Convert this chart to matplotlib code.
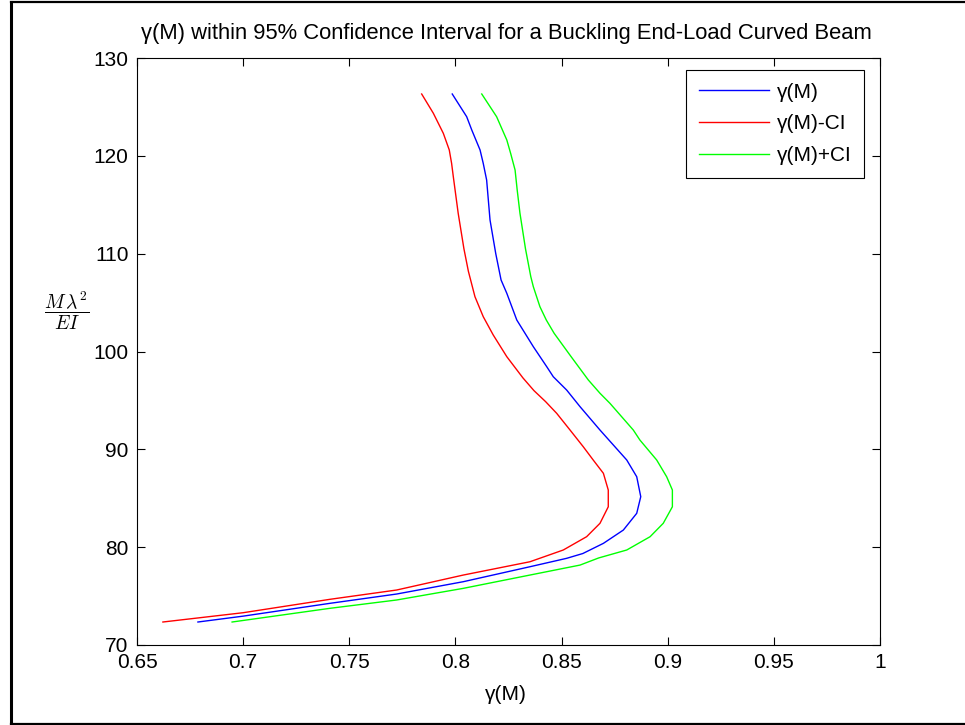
import matplotlib
matplotlib.use("Agg")
import matplotlib.pyplot as plt
from matplotlib.lines import Line2D

plt.rcParams['font.family'] = ['Liberation Sans', 'DejaVu Sans']
plt.rcParams['mathtext.fontset'] = 'cm'

# ---- data ----
gamma_x = [0.6787, 0.7000, 0.7409, 0.7723, 0.8037, 0.8351, 0.8524, 0.8600, 0.8697,
           0.8791, 0.8854, 0.8873, 0.8854, 0.8807, 0.8681, 0.8587, 0.8524, 0.8461,
           0.8430, 0.8367, 0.8289, 0.8242, 0.8215, 0.8190, 0.8163, 0.8147,
           0.8131, 0.8116, 0.8077, 0.8053, 0.7985]
gamma_y = [72.35, 72.95, 74.26, 75.21, 76.47, 78.00, 78.86, 79.35, 80.39,
           81.75, 83.46, 85.16, 87.20, 88.91, 91.97, 94.36, 96.06, 97.42,
           98.45, 100.49, 103.22, 105.95, 107.31, 110.00, 113.44, 117.53,
           119.23, 120.60, 122.64, 124.00, 126.32]

lower_x = [0.6622, 0.7000, 0.7409, 0.7723, 0.8037, 0.8351, 0.8508, 0.8618, 0.8681,
           0.8720, 0.8720, 0.8697, 0.8649, 0.8602, 0.8540, 0.8477, 0.8425, 0.8370,
           0.8318, 0.8242, 0.8178, 0.8131, 0.8092, 0.8061, 0.8040, 0.8013,
           0.7990, 0.7982, 0.7971, 0.7943, 0.7896, 0.7841]
lower_y = [72.35, 73.30, 74.67, 75.62, 77.15, 78.51, 79.71, 81.07, 82.44,
           84.13, 85.84, 87.55, 88.91, 90.27, 91.97, 93.68, 94.87, 96.00,
           97.30, 99.47, 101.69, 103.56, 105.60, 108.20, 110.50, 114.13,
           117.87, 119.23, 120.60, 122.30, 124.35, 126.32]

upper_x = [0.6948, 0.7409, 0.7723, 0.8037, 0.8351, 0.8587, 0.8675, 0.8807, 0.8917,
           0.8979, 0.9022, 0.9022, 0.8995, 0.8948, 0.8869, 0.8838, 0.8728, 0.8681,
           0.8626, 0.8545, 0.8465, 0.8428, 0.8398, 0.8367, 0.8355, 0.8330, 0.8304,
           0.8291, 0.8281, 0.8260, 0.8242, 0.8194, 0.8124]
upper_y = [72.35, 73.75, 74.60, 75.79, 77.15, 78.17, 78.90, 79.71, 81.07,
           82.44, 84.13, 85.84, 87.20, 88.91, 90.95, 91.97, 94.70, 95.73,
           97.09, 99.47, 101.86, 103.22, 104.58, 106.62, 107.65, 110.50, 114.13,
           116.50, 118.55, 120.26, 121.62, 124.00, 126.32]

series_labels = ['γ(M)', 'γ(M)-CI', 'γ(M)+CI']
x_ticks = [0.65, 0.7, 0.75, 0.8, 0.85, 0.9, 0.95, 1]
x_tick_labels = ['0.65', '0.7', '0.75', '0.8', '0.85', '0.9', '0.95', '1']
y_ticks = [70, 80, 90, 100, 110, 120, 130]
title_text = 'γ(M) within 95% Confidence Interval for a Buckling End-Load Curved Beam'
xlabel_text = 'γ(M)'
ylabel_text = r'$\dfrac{M\,\lambda^2}{EI}$'

W, H = 965, 725
fig = plt.figure(figsize=(W / 100, H / 100), dpi=100)
fig.patch.set_facecolor('white')

ax = fig.add_axes([137 / W, (H - 645) / H, 743 / W, 587 / H])
ax.plot(gamma_x, gamma_y, color=(0, 0, 1), lw=1.0, label=series_labels[0])
ax.plot(lower_x, lower_y, color=(1, 0, 0), lw=1.0, label=series_labels[1])
ax.plot(upper_x, upper_y, color=(0, 1, 0), lw=1.0, label=series_labels[2])

ax.set_xlim(0.65, 1.0)
ax.set_ylim(70, 130)
ax.set_xticks(x_ticks)
ax.set_xticklabels(x_tick_labels)
ax.set_yticks(y_ticks)
ax.tick_params(direction='in', length=6, width=0.8, top=True, right=True,
               labelsize=15, colors='black', pad=6)
for s in ax.spines.values():
    s.set_linewidth(0.8)
    s.set_color('black')

leg = ax.legend(loc='upper right', bbox_to_anchor=((864 - 137) / 743, (645 - 70) / 587),
                borderaxespad=0, fancybox=False, edgecolor='black', framealpha=1,
                fontsize=15, handlelength=3.36, handletextpad=0.38, labelspacing=0.62,
                borderpad=0.6)
leg.get_frame().set_linewidth(0.8)

fig.text(506 / W, 1 - 33 / H, title_text, ha='center', va='center', fontsize=15.8)
fig.text(506 / W, 1 - 695 / H, xlabel_text, ha='center', va='center', fontsize=15)
fig.text(67 / W, 1 - 311 / H, ylabel_text, ha='center', va='center', fontsize=14)

# outer frame (cropped screenshot border)
fig.add_artist(Line2D([10.5 / W, 10.5 / W], [1 - 2 / H, 1 - 723.5 / H],
                      transform=fig.transFigure, color='black', lw=2.2))
fig.add_artist(Line2D([10.5 / W, 1.0], [1 - 2 / H, 1 - 2 / H],
                      transform=fig.transFigure, color='black', lw=1.6))
fig.add_artist(Line2D([10.5 / W, 1.0], [1 - 723.5 / H, 1 - 723.5 / H],
                      transform=fig.transFigure, color='black', lw=1.6))

fig.savefig('out.png', dpi=100)
